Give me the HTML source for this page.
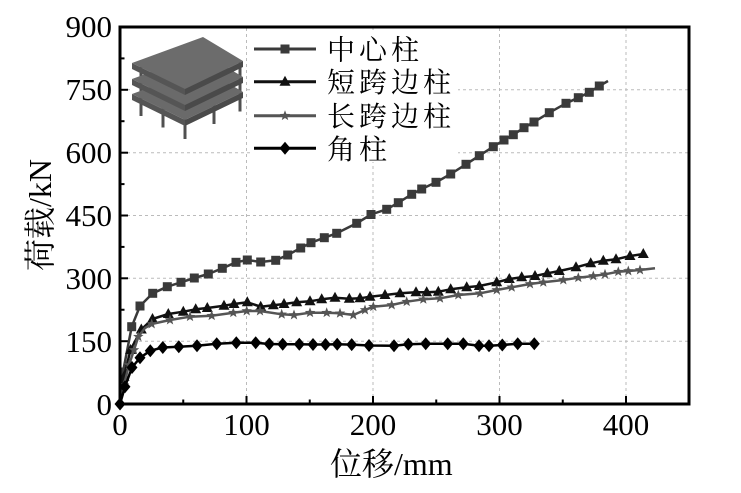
<!DOCTYPE html>
<html><head><meta charset="utf-8"><style>
html,body{margin:0;padding:0;background:#fff;}
svg{display:block;}
.tl{font-family:"Liberation Serif","Noto Serif CJK SC",serif;font-size:31px;fill:#000;}
.lg{font-family:"Liberation Serif","Noto Serif CJK SC",serif;font-size:28px;letter-spacing:4px;fill:#000;}
.ax{font-family:"Liberation Serif","Noto Serif CJK SC",serif;font-size:32px;fill:#000;}
</style></head><body>
<svg width="741" height="493" viewBox="0 0 741 493" xmlns="http://www.w3.org/2000/svg">
<defs>
<rect id="sq" x="-4.5" y="-4.5" width="9" height="9" fill="#3a3a3a"/>
<polygon id="tr" points="0,-6 5.5,4 -5.5,4" fill="#111"/>
<polygon id="st" points="0,-5.5 1.35,-1.86 5.23,-1.7 2.19,0.71 3.23,4.45 0,2.3 -3.23,4.45 -2.19,0.71 -5.23,-1.7 -1.35,-1.86" fill="#555"/>
<polygon id="dm" points="0,-6.5 5.5,0 0,6.5 -5.5,0" fill="#000"/>
</defs>
<rect width="741" height="493" fill="#fff"/>
<!-- grid -->
<g stroke="#bbb" stroke-width="1" stroke-dasharray="3,3" fill="none">
<line x1="246.5" y1="28" x2="246.5" y2="403"/>
<line x1="373" y1="28" x2="373" y2="403"/>
<line x1="499.5" y1="28" x2="499.5" y2="403"/>
<line x1="626" y1="28" x2="626" y2="403"/>
<line x1="121" y1="341.2" x2="688" y2="341.2"/>
<line x1="121" y1="278.3" x2="688" y2="278.3"/>
<line x1="121" y1="215.5" x2="688" y2="215.5"/>
<line x1="121" y1="152.7" x2="688" y2="152.7"/>
<line x1="121" y1="89.8" x2="688" y2="89.8"/>
</g>
<!-- building inset -->
<rect x="130" y="33" width="116" height="110" fill="#fff"/>
<g fill="#505050">
<rect x="139.5" y="67" width="3" height="49"/>
<rect x="161.5" y="78.5" width="3" height="49"/>
<rect x="183.5" y="89" width="3" height="50"/>
<rect x="212.5" y="75" width="3" height="49"/>
<rect x="238.5" y="62.5" width="3" height="49"/>
</g>
<g>
<polygon points="132,94 203,68 243,92 185,120" fill="#6a6a6a"/>
<polygon points="132,94 185,120 185,126 132,100" fill="#555"/>
<polygon points="185,120 243,92 243,98 185,126" fill="#4a4a4a"/>
<polygon points="132,79 203,53 243,77 185,105" fill="#6a6a6a"/>
<polygon points="132,79 185,105 185,111 132,85" fill="#555"/>
<polygon points="185,105 243,77 243,83 185,111" fill="#4a4a4a"/>
<polygon points="132,63 203,37 243,61 185,89" fill="#6c6c6c"/>
<polygon points="132,63 185,89 185,95 132,69" fill="#555"/>
<polygon points="185,89 243,61 243,67 185,95" fill="#4a4a4a"/>
</g>
<!-- ticks -->
<g stroke="#000" stroke-width="2">
<line x1="246.5" y1="404" x2="246.5" y2="396"/>
<line x1="373" y1="404" x2="373" y2="396"/>
<line x1="499.5" y1="404" x2="499.5" y2="396"/>
<line x1="626" y1="404" x2="626" y2="396"/>
<line x1="183.25" y1="404" x2="183.25" y2="399.5"/>
<line x1="309.75" y1="404" x2="309.75" y2="399.5"/>
<line x1="436.25" y1="404" x2="436.25" y2="399.5"/>
<line x1="562.75" y1="404" x2="562.75" y2="399.5"/>
<line x1="120" y1="341.2" x2="128" y2="341.2"/>
<line x1="120" y1="278.3" x2="128" y2="278.3"/>
<line x1="120" y1="215.5" x2="128" y2="215.5"/>
<line x1="120" y1="152.7" x2="128" y2="152.7"/>
<line x1="120" y1="89.8" x2="128" y2="89.8"/>
<line x1="120" y1="372.6" x2="124.5" y2="372.6"/>
<line x1="120" y1="309.75" x2="124.5" y2="309.75"/>
<line x1="120" y1="246.9" x2="124.5" y2="246.9"/>
<line x1="120" y1="184.1" x2="124.5" y2="184.1"/>
<line x1="120" y1="121.2" x2="124.5" y2="121.2"/>
<line x1="120" y1="58.4" x2="124.5" y2="58.4"/>
</g>
<!-- series: center column -->
<polyline fill="none" stroke="#3a3a3a" stroke-width="2.5" stroke-linejoin="round" points="120,404 123,372 131.7,326.7 140,306 152.7,293.3 167.3,286.7 181,282.3 194.3,278 208.3,274 222.3,268.3 236,262.3 247.3,260 260.7,262 275.7,260.3 287.7,255 300.7,248 311,242.7 324.3,237.7 336.7,233.3 356.7,223.3 371,214.5 386.7,209.3 398.3,202.7 411.7,194.3 421.7,189 436,182.3 450.7,174 466,164.3 479.3,155.7 493.3,146.7 504,140 513.3,134.7 524,127.7 534,122 549.3,112.7 566,103.3 578.3,97.7 589.3,92.3 599.3,86 608,81"/>
<g>
<use href="#sq" x="123" y="372"/><use href="#sq" x="131.7" y="326.7"/><use href="#sq" x="140" y="306"/><use href="#sq" x="152.7" y="293.3"/><use href="#sq" x="167.3" y="286.7"/><use href="#sq" x="181" y="282.3"/><use href="#sq" x="194.3" y="278"/><use href="#sq" x="208.3" y="274"/><use href="#sq" x="222.3" y="268.3"/><use href="#sq" x="236" y="262.3"/><use href="#sq" x="247.3" y="260"/><use href="#sq" x="260.7" y="262"/><use href="#sq" x="275.7" y="260.3"/><use href="#sq" x="287.7" y="255"/><use href="#sq" x="300.7" y="248"/><use href="#sq" x="311" y="242.7"/><use href="#sq" x="324.3" y="237.7"/><use href="#sq" x="336.7" y="233.3"/><use href="#sq" x="356.7" y="223.3"/><use href="#sq" x="371" y="214.5"/><use href="#sq" x="386.7" y="209.3"/><use href="#sq" x="398.3" y="202.7"/><use href="#sq" x="411.7" y="194.3"/><use href="#sq" x="421.7" y="189"/><use href="#sq" x="436" y="182.3"/><use href="#sq" x="450.7" y="174"/><use href="#sq" x="466" y="164.3"/><use href="#sq" x="479.3" y="155.7"/><use href="#sq" x="493.3" y="146.7"/><use href="#sq" x="504" y="140"/><use href="#sq" x="513.3" y="134.7"/><use href="#sq" x="524" y="127.7"/><use href="#sq" x="534" y="122"/><use href="#sq" x="549.3" y="112.7"/><use href="#sq" x="566" y="103.3"/><use href="#sq" x="578.3" y="97.7"/><use href="#sq" x="589.3" y="92.3"/><use href="#sq" x="599.3" y="86"/>
</g>
<!-- short span edge -->
<polyline fill="none" stroke="#111" stroke-width="2.5" stroke-linejoin="round" points="120,404 122,385 124,376.7 130.5,350 141.3,329.5 152.5,319 168.3,314 183.3,311.7 195.7,309.3 207.3,308 224,305.7 234,304 247.3,302.3 260.7,306.7 273.3,305.3 284,304 296.7,302.3 310,301.3 321.7,299.3 335,297.7 349.3,298.7 360,298.3 370,296.7 385,295 400,293.3 416,292.3 426.7,292.3 438.3,291.7 450.7,289.3 466.7,287.3 479.3,286 496.7,282.3 509.3,279 521.7,277.3 535,276 547.3,273.3 559.3,271 576,267.3 590.7,263.3 603.3,260.7 616,259.3 630,256 643.3,254"/>
<g>
<use href="#tr" x="124" y="376.7"/><use href="#tr" x="130.5" y="350"/><use href="#tr" x="141.3" y="329.5"/><use href="#tr" x="152.5" y="319"/><use href="#tr" x="168.3" y="314"/><use href="#tr" x="183.3" y="311.7"/><use href="#tr" x="195.7" y="309.3"/><use href="#tr" x="207.3" y="308"/><use href="#tr" x="224" y="305.7"/><use href="#tr" x="234" y="304"/><use href="#tr" x="247.3" y="302.3"/><use href="#tr" x="260.7" y="306.7"/><use href="#tr" x="273.3" y="305.3"/><use href="#tr" x="284" y="304"/><use href="#tr" x="296.7" y="302.3"/><use href="#tr" x="310" y="301.3"/><use href="#tr" x="321.7" y="299.3"/><use href="#tr" x="335" y="297.7"/><use href="#tr" x="349.3" y="298.7"/><use href="#tr" x="360" y="298.3"/><use href="#tr" x="370" y="296.7"/><use href="#tr" x="385" y="295"/><use href="#tr" x="400" y="293.3"/><use href="#tr" x="416" y="292.3"/><use href="#tr" x="426.7" y="292.3"/><use href="#tr" x="438.3" y="291.7"/><use href="#tr" x="450.7" y="289.3"/><use href="#tr" x="466.7" y="287.3"/><use href="#tr" x="479.3" y="286"/><use href="#tr" x="496.7" y="282.3"/><use href="#tr" x="509.3" y="279"/><use href="#tr" x="521.7" y="277.3"/><use href="#tr" x="535" y="276"/><use href="#tr" x="547.3" y="273.3"/><use href="#tr" x="559.3" y="271"/><use href="#tr" x="576" y="267.3"/><use href="#tr" x="590.7" y="263.3"/><use href="#tr" x="603.3" y="260.7"/><use href="#tr" x="616" y="259.3"/><use href="#tr" x="630" y="256"/><use href="#tr" x="643.3" y="254"/>
</g>
<!-- long span edge -->
<polyline fill="none" stroke="#555" stroke-width="2.5" stroke-linejoin="round" points="120,404 124,385 129,365 134,350 138.3,336.7 145,328 151.7,324 170,320 190,316.7 211.7,315.7 233.3,312.7 246.7,311 260,311 281.7,314.3 294,315 310,312.7 326.7,312.7 340,313.3 353.3,315 365,310 373.3,306.7 391.7,305 406.7,301.7 423.3,299.3 440,298.3 458.3,295 480,293.3 496.7,290 511.7,287.3 530,284 543.3,282.3 563.3,280 578.3,277.7 593.3,276 605,274.3 618.3,271.7 628.3,271 640,270 655,268.3"/>
<g>
<use href="#st" x="124" y="385"/><use href="#st" x="129" y="365"/><use href="#st" x="134" y="350"/><use href="#st" x="138.3" y="336.7"/><use href="#st" x="151.7" y="324"/><use href="#st" x="170" y="320"/><use href="#st" x="190" y="316.7"/><use href="#st" x="211.7" y="315.7"/><use href="#st" x="233.3" y="312.7"/><use href="#st" x="246.7" y="311"/><use href="#st" x="260" y="311"/><use href="#st" x="281.7" y="314.3"/><use href="#st" x="294" y="315"/><use href="#st" x="310" y="312.7"/><use href="#st" x="326.7" y="312.7"/><use href="#st" x="340" y="313.3"/><use href="#st" x="353.3" y="315"/><use href="#st" x="365" y="310"/><use href="#st" x="373.3" y="306.7"/><use href="#st" x="391.7" y="305"/><use href="#st" x="406.7" y="301.7"/><use href="#st" x="423.3" y="299.3"/><use href="#st" x="440" y="298.3"/><use href="#st" x="458.3" y="295"/><use href="#st" x="480" y="293.3"/><use href="#st" x="496.7" y="290"/><use href="#st" x="511.7" y="287.3"/><use href="#st" x="530" y="284"/><use href="#st" x="543.3" y="282.3"/><use href="#st" x="563.3" y="280"/><use href="#st" x="578.3" y="277.7"/><use href="#st" x="593.3" y="276"/><use href="#st" x="605" y="274.3"/><use href="#st" x="618.3" y="271.7"/><use href="#st" x="628.3" y="271"/><use href="#st" x="640" y="270"/>
</g>
<!-- corner -->
<polyline fill="none" stroke="#000" stroke-width="2.5" stroke-linejoin="round" points="120,404 125,386.7 132,367.5 140,357.8 150.3,350.7 162.8,347.5 178.8,346.7 197,345.8 216.7,343.7 236.3,342.7 255.7,342.7 269.3,344 282.7,344.3 299.3,344.3 313,344.5 325.5,344.5 337.2,344.3 351.7,344.6 369,345.5 394,345.7 408.3,344.3 425.7,343.7 447.7,343.7 463.3,343.7 479,345.7 489,345.7 502.3,345 517.7,343.7 534.3,343.7"/>
<g>
<use href="#dm" x="120" y="404"/><use href="#dm" x="125" y="386.7"/><use href="#dm" x="132" y="367.5"/><use href="#dm" x="140" y="357.8"/><use href="#dm" x="150.3" y="350.7"/><use href="#dm" x="162.8" y="347.5"/><use href="#dm" x="178.8" y="346.7"/><use href="#dm" x="197" y="345.8"/><use href="#dm" x="216.7" y="343.7"/><use href="#dm" x="236.3" y="342.7"/><use href="#dm" x="255.7" y="342.7"/><use href="#dm" x="269.3" y="344"/><use href="#dm" x="282.7" y="344.3"/><use href="#dm" x="299.3" y="344.3"/><use href="#dm" x="313" y="344.5"/><use href="#dm" x="325.5" y="344.5"/><use href="#dm" x="337.2" y="344.3"/><use href="#dm" x="351.7" y="344.6"/><use href="#dm" x="369" y="345.5"/><use href="#dm" x="394" y="345.7"/><use href="#dm" x="408.3" y="344.3"/><use href="#dm" x="425.7" y="343.7"/><use href="#dm" x="447.7" y="343.7"/><use href="#dm" x="463.3" y="343.7"/><use href="#dm" x="479" y="345.7"/><use href="#dm" x="489" y="345.7"/><use href="#dm" x="502.3" y="345"/><use href="#dm" x="517.7" y="343.7"/><use href="#dm" x="534.3" y="343.7"/>
</g>
<!-- legend -->
<rect x="250" y="30" width="208" height="132" fill="#fff"/>
<g stroke-width="3">
<line x1="254" y1="49" x2="316" y2="49" stroke="#3a3a3a"/>
<line x1="254" y1="81.7" x2="316" y2="81.7" stroke="#111"/>
<line x1="254" y1="115.7" x2="316" y2="115.7" stroke="#555"/>
<line x1="254" y1="148.3" x2="316" y2="148.3" stroke="#000"/>
</g>
<use href="#sq" x="285" y="49"/>
<use href="#tr" x="285" y="81.7"/>
<use href="#st" x="285" y="115.7"/>
<use href="#dm" x="285" y="148.3"/>
<text class="lg" x="327" y="59.5">中心柱</text>
<text class="lg" x="327" y="92.2">短跨边柱</text>
<text class="lg" x="327" y="126.2">长跨边柱</text>
<text class="lg" x="327" y="158.8">角柱</text>
<!-- spines -->
<rect x="120" y="27" width="569" height="377" fill="none" stroke="#000" stroke-width="3"/>
<!-- tick labels -->
<g class="tl" text-anchor="end">
<text x="112" y="415">0</text>
<text x="112" y="352">150</text>
<text x="112" y="289">300</text>
<text x="112" y="226">450</text>
<text x="112" y="163">600</text>
<text x="112" y="100">750</text>
<text x="112" y="37">900</text>
</g>
<g class="tl" text-anchor="middle">
<text x="120" y="435">0</text>
<text x="246.5" y="435">100</text>
<text x="373" y="435">200</text>
<text x="499.5" y="435">300</text>
<text x="626" y="435">400</text>
</g>
<text class="ax" x="330" y="475">位移/mm</text>
<text class="ax" transform="translate(51,215) rotate(-90)" text-anchor="middle">荷载/kN</text>
</svg>
</body></html>
